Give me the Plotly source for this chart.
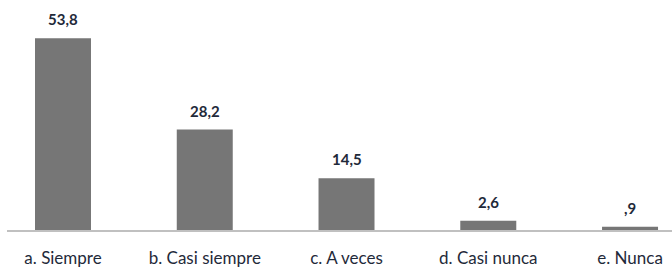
import plotly.graph_objects as go

categories = ["a. Siempre", "b. Casi siempre", "c. A veces", "d. Casi nunca", "e. Nunca"]
values = [53.8, 28.2, 14.5, 2.6, 0.9]
value_labels = ["53,8", "28,2", "14,5", "2,6", ",9"]

fig = go.Figure()
fig.add_trace(go.Bar(
    x=categories, y=values,
    marker=dict(color="#767676", line=dict(width=0)),
    width=0.395,
    hoverinfo="skip",
))
for c, v, t in zip(categories, values, value_labels):
    fig.add_annotation(x=c, y=v, text="<b>" + t + "</b>", showarrow=False, yanchor="bottom",
                       yshift=8, font=dict(family="Lato", size=15, color="#1f2a3a"))

fig.update_layout(
    width=672, height=268,
    margin=dict(l=7, r=0, t=0, b=34),
    plot_bgcolor="white", paper_bgcolor="white",
    showlegend=False,
    font=dict(family="Lato", size=17, color="#1f2a3a"),
    xaxis=dict(range=[-0.395, 4.296], showline=True, linecolor="#c0c0c0", linewidth=1.5,
               ticks="", showgrid=False, ticklabelstandoff=12,
               tickfont=dict(family="Lato", size=17, color="#1f2a3a")),
    yaxis=dict(range=[0, 64.55], visible=False, showgrid=False),
)
fig.write_html("out.html", config={"displayModeBar": False},
               post_script="document.body.style.margin='0';")
